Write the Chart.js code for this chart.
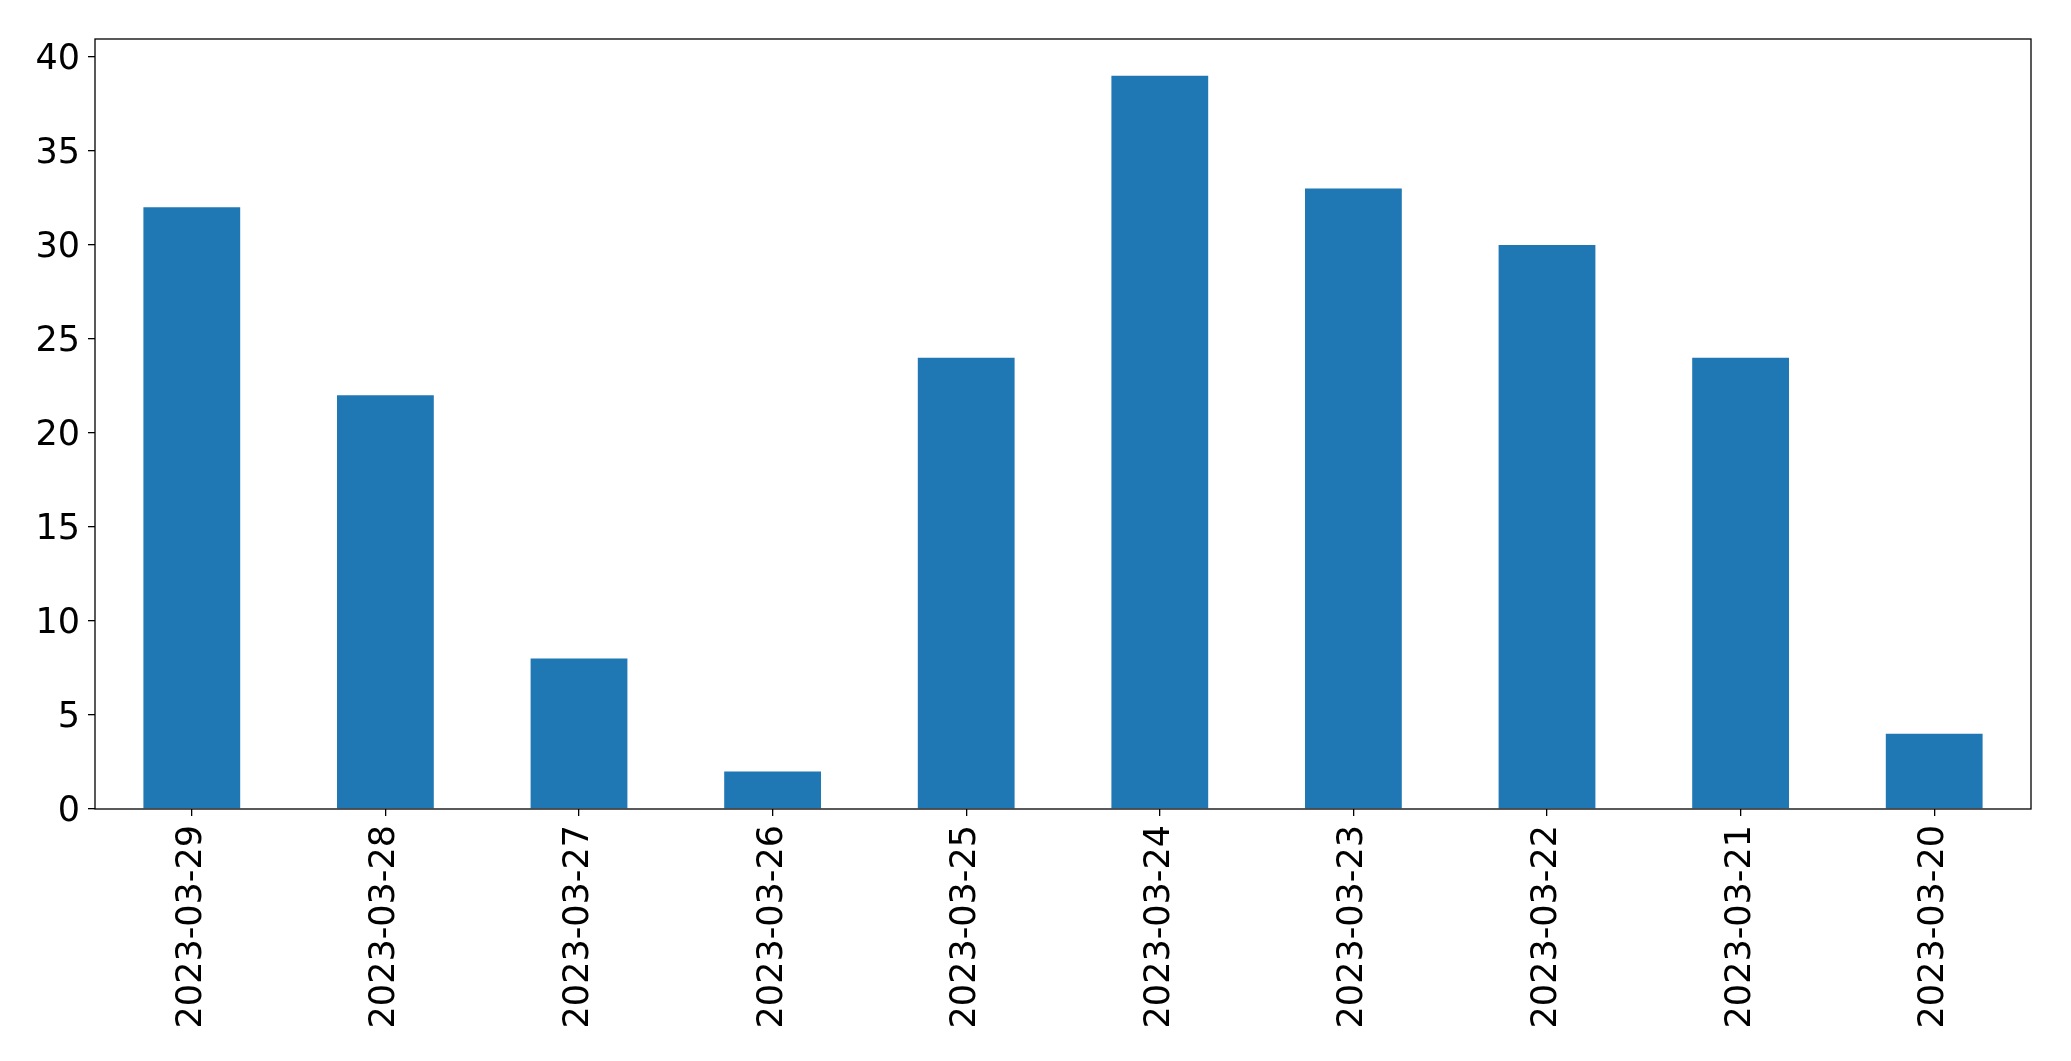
<!DOCTYPE html>
<html>
<head>
<meta charset="utf-8">
<script src="https://cdn.jsdelivr.net/npm/chart.js@4/dist/chart.umd.min.js"></script>
<style>
html,body{margin:0;padding:0;background:#fff;}
#wrap{width:2071px;height:1061px;}
</style>
</head>
<body>
<div id="wrap"><canvas id="c" width="2071" height="1061"></canvas></div>
<script>
const categories = ["2023-03-29","2023-03-28","2023-03-27","2023-03-26","2023-03-25","2023-03-24","2023-03-23","2023-03-22","2023-03-21","2023-03-20"];
const values = [32, 22, 8, 2, 24, 39, 33, 30, 24, 4];
const yTicks = [0, 5, 10, 15, 20, 25, 30, 35, 40];

const frame = {
  id: 'frame',
  afterDraw(chart) {
    const a = chart.chartArea, ctx = chart.ctx;
    ctx.save();
    ctx.strokeStyle = '#000';
    ctx.lineWidth = 1.3;
    ctx.strokeRect(a.left, a.top, a.right - a.left, a.bottom - a.top);
    ctx.restore();
  }
};

new Chart(document.getElementById('c'), {
  type: 'bar',
  data: {
    labels: categories,
    datasets: [{
      data: values,
      backgroundColor: '#1f77b4',
      borderWidth: 0,
      barPercentage: 0.5,
      categoryPercentage: 1.0
    }]
  },
  options: {
    responsive: false,
    animation: false,
    devicePixelRatio: 1,
    layout: { padding: { top: 39, right: 40, left: 0, bottom: 0 } },
    plugins: { legend: { display: false }, tooltip: { enabled: false } },
    scales: {
      x: {
        offset: true,
        grid: { display: true, offset: false, drawOnChartArea: false, drawTicks: true, tickLength: 7, color: '#000', lineWidth: 1.3 },
        border: { display: false },
        ticks: {
          minRotation: 90, maxRotation: 90, autoSkip: false,
          color: '#000', padding: 9,
          font: { family: 'DejaVu Sans', size: 35 }
        },
        afterFit(scale) { scale.height = 252; }
      },
      y: {
        min: 0, max: 40.95,
        grid: { display: true, drawOnChartArea: false, drawTicks: true, tickLength: 7, color: '#000', lineWidth: 1.3 },
        border: { display: false },
        afterBuildTicks(scale) { scale.ticks = yTicks.map(v => ({ value: v })); },
        ticks: {
          includeBounds: false,
          color: '#000', padding: 8, labelOffset: 3,
          font: { family: 'DejaVu Sans', size: 35 }
        },
        afterFit(scale) { scale.width = 95; }
      }
    }
  },
  plugins: [frame]
});
</script>
</body>
</html>
